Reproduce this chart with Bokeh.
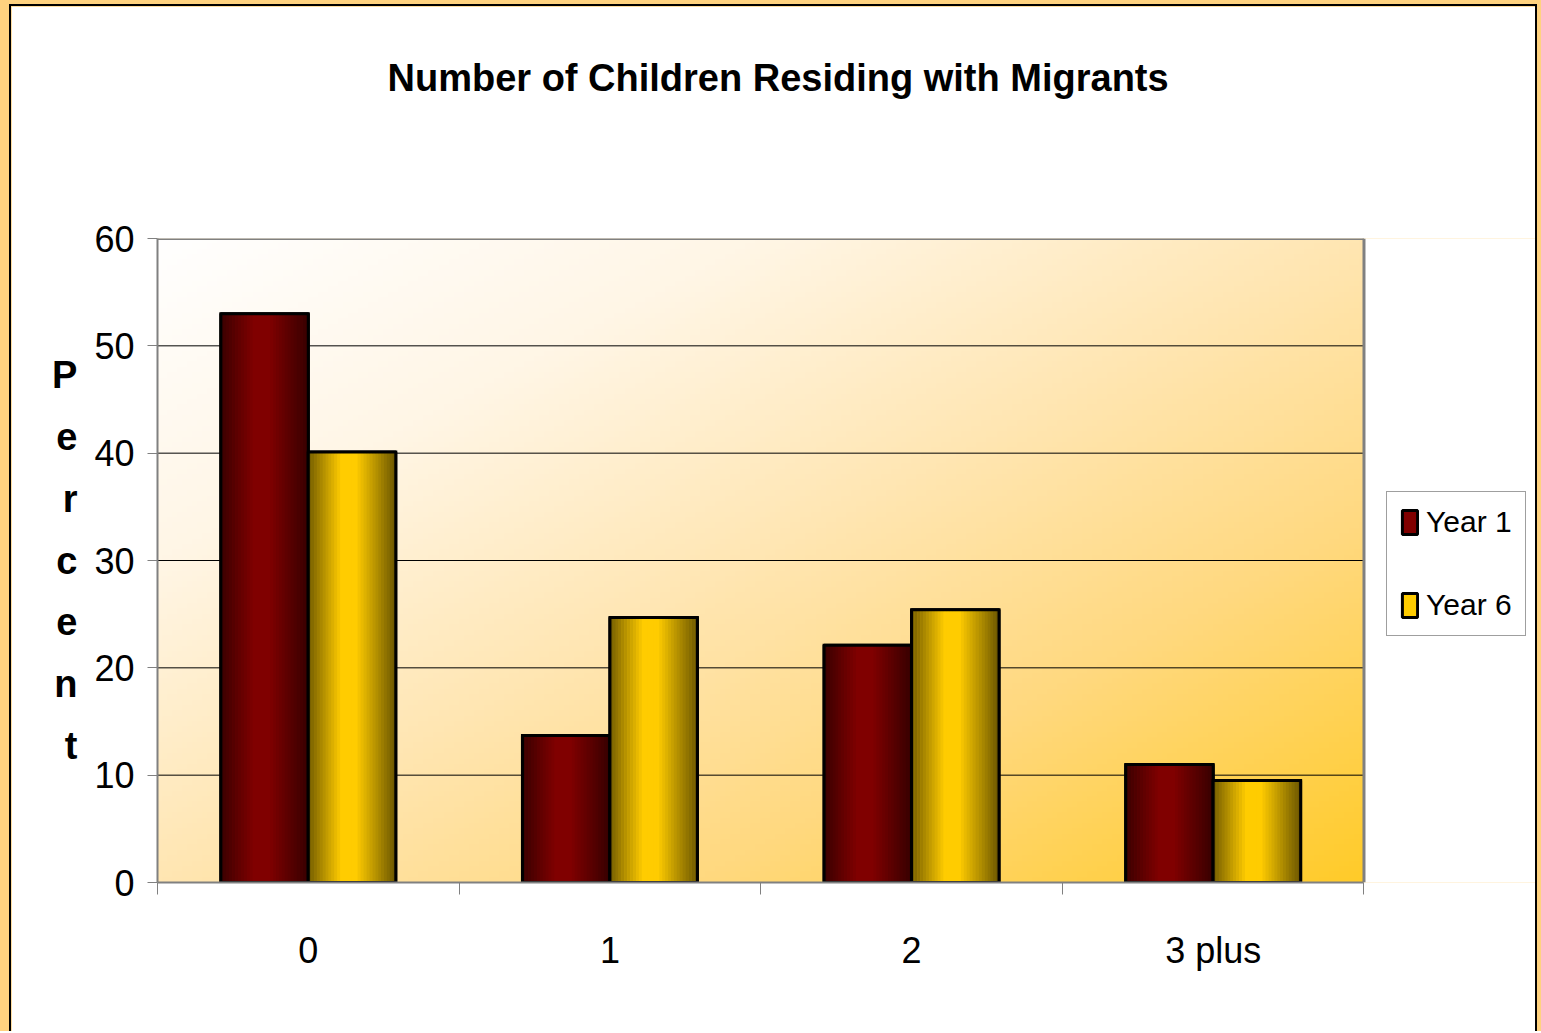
import numpy as np
from bokeh.plotting import figure
from bokeh.models import (Range1d, LinearAxis, FixedTicker, Title,
                          ColumnDataSource, Legend, LegendItem)
from bokeh.transform import dodge
from bokeh.layouts import column
from bokeh.embed import file_html
from bokeh.resources import INLINE

# ---------------- data ----------------
title_text = "Number of Children Residing with Migrants"
categories = ["0", "1", "2", "3 plus"]
year1 = [53.0, 13.7, 22.1, 11.0]
year6 = [40.1, 24.7, 25.4, 9.5]
series_names = ["Year 1", "Year 6"]
y_ticks = [0, 10, 20, 30, 40, 50, 60]
y_label = "Percent"

FONT = "Liberation Sans, Arial, sans-serif"

ncat = len(categories)
ymax = y_ticks[-1]
centers = [i + 0.5 for i in range(ncat)]          # category slot centres on the x scale
src = ColumnDataSource(dict(xc=centers, y1=year1, y6=year6))

# frame extends to the right edge so the legend (which sits right of the bars' area) is not clipped
FRAME_L, FRAME_R, DATA_R = 146, 1524, 1203 + 146   # canvas px
x_end = ncat * (FRAME_R - FRAME_L) / (DATA_R - FRAME_L)

p = figure(title=None, x_range=Range1d(0, x_end), y_range=Range1d(0, ymax),
           width=1528, height=1027, output_backend="svg", toolbar_location=None,
           x_axis_location=None, y_axis_location=None,
           min_border_left=146, min_border_right=0, min_border_top=232, min_border_bottom=151,
           border_fill_color="white", background_fill_color="white",
           outline_line_color=None)
for g in list(p.grid):
    g.visible = False

# ---------------- plot-area gradient ----------------
H, W = 120, 240
stops_t = [0.0, 0.25, 0.5, 0.72, 1.0]
stops_c = np.array([[255, 255, 255], [255, 246, 230], [255, 230, 178], [255, 217, 128], [255, 203, 40]], float)
yy, xx = np.mgrid[0:H, 0:W]
t = ((xx + 0.5) / W + 1 - (yy + 0.5) / H) / 2
rgb = np.stack([np.interp(t, stops_t, stops_c[:, i]) for i in range(3)], axis=-1).astype(np.uint8)
img = np.empty((H, W), dtype=np.uint32)
view = img.view(dtype=np.uint8).reshape((H, W, 4))
view[:, :, :3] = rgb
view[:, :, 3] = 255
p.image_rgba(image=[img], x=0, y=0, dw=ncat, dh=ymax, level="image")

# horizontal grid lines limited to the plot area
p.segment(x0=0, x1=ncat, y0=y_ticks[1:-1], y1=y_ticks[1:-1], line_color="black", line_width=1,
          level="underlay")

# ---------------- bars ----------------
bw = 0.29
offsets = [-0.145, 0.145]
bases = [(128, 0, 0), (255, 204, 0)]
cols = ["y1", "y6"]
prof_u = [0.0, 0.38, 0.55, 1.0]
prof_f = [0.45, 1.0, 1.0, 0.42]
N = 30
base_renderers = []
for s in range(2):
    r = p.vbar(x=dodge("xc", offsets[s]), top=cols[s], width=bw, source=src,
               fill_color="#%02x%02x%02x" % bases[s], line_color="black", line_width=3)
    base_renderers.append(r)
    for k in range(N):
        u = (k + 0.5) / N
        f = np.interp(u, prof_u, prof_f)
        c = tuple(int(round(v * f)) for v in bases[s])
        hexc = "#%02x%02x%02x" % c
        xo = offsets[s] - bw / 2 + u * bw
        p.vbar(x=dodge("xc", xo), top=cols[s], width=bw / N * 1.15, source=src,
               fill_color=hexc, line_color=None)
    p.vbar(x=dodge("xc", offsets[s]), top=cols[s], width=bw, source=src,
           fill_color=None, line_color="black", line_width=3, line_join="miter")

# plot-area border (top and right)
p.segment(x0=[0, ncat], y0=[ymax, 0], x1=[ncat, ncat], y1=[ymax, ymax],
          line_color="#808080", line_width=3)

# ---------------- axes ----------------
yax = LinearAxis(ticker=FixedTicker(ticks=y_ticks), axis_line_color="#808080", axis_line_width=2,
                 major_tick_out=10, major_tick_in=0, major_tick_line_color="#808080",
                 minor_tick_line_color=None, major_label_text_font=FONT,
                 major_label_text_font_size="36px", major_label_text_color="black",
                 major_label_standoff=13,
                 axis_label="\n".join(y_label), axis_label_orientation="horizontal",
                 axis_label_text_font=FONT, axis_label_text_font_style="bold",
                 axis_label_text_font_size="38px", axis_label_text_line_height=1.47,
                 axis_label_text_color="black", axis_label_standoff=14,
                 axis_label_text_align="center")
p.add_layout(yax, "left")

bounds = list(range(ncat + 1))
bax = LinearAxis(ticker=FixedTicker(ticks=bounds), bounds=(0, ncat),
                 axis_line_color="#808080", axis_line_width=2, major_tick_out=12, major_tick_in=0,
                 major_tick_line_color="#808080", minor_tick_line_color=None,
                 major_label_overrides={b: "" for b in bounds},
                 major_label_text_font_size="1px", major_label_standoff=0)
p.add_layout(bax, "below")
cax = LinearAxis(ticker=FixedTicker(ticks=centers), axis_line_color=None,
                 major_tick_line_color=None, minor_tick_line_color=None,
                 major_label_overrides={c: categories[i] for i, c in enumerate(centers)},
                 major_label_text_font=FONT, major_label_text_font_size="36px",
                 major_label_text_color="black", major_label_standoff=29)
p.add_layout(cax, "below")

# ---------------- title ----------------
# spacer panel between the plot area and the title
p.add_layout(Title(text=" ", standoff=131, text_font_size="1px"), "above")
p.add_layout(Title(text=title_text, align="left", offset=230, standoff=10,
                   vertical_align="middle",
                   text_font=FONT, text_font_style="bold", text_font_size="38px",
                   text_color="black"), "above")

# ---------------- legend ----------------
legend = Legend(items=[LegendItem(label=series_names[i], renderers=[base_renderers[i]]) for i in range(2)],
                location=(1229, 246), orientation="vertical",
                glyph_width=19, glyph_height=30, label_height=30, spacing=49, padding=13,
                label_standoff=7, label_text_font=FONT, label_text_font_size="30px",
                label_text_color="black",
                border_line_color="#404040", border_line_width=1.5, background_fill_color="white",
                background_fill_alpha=1, margin=0)
p.add_layout(legend, "center")

p.styles = {"border-left": "2px solid black", "border-top": "2px solid black",
            "border-right": "2px solid black"}
layout = column(p, styles={"background-color": "#FFD27F", "padding": "4px 4px 0px 9px"})

open("out.html", "w").write(file_html(layout, INLINE))
